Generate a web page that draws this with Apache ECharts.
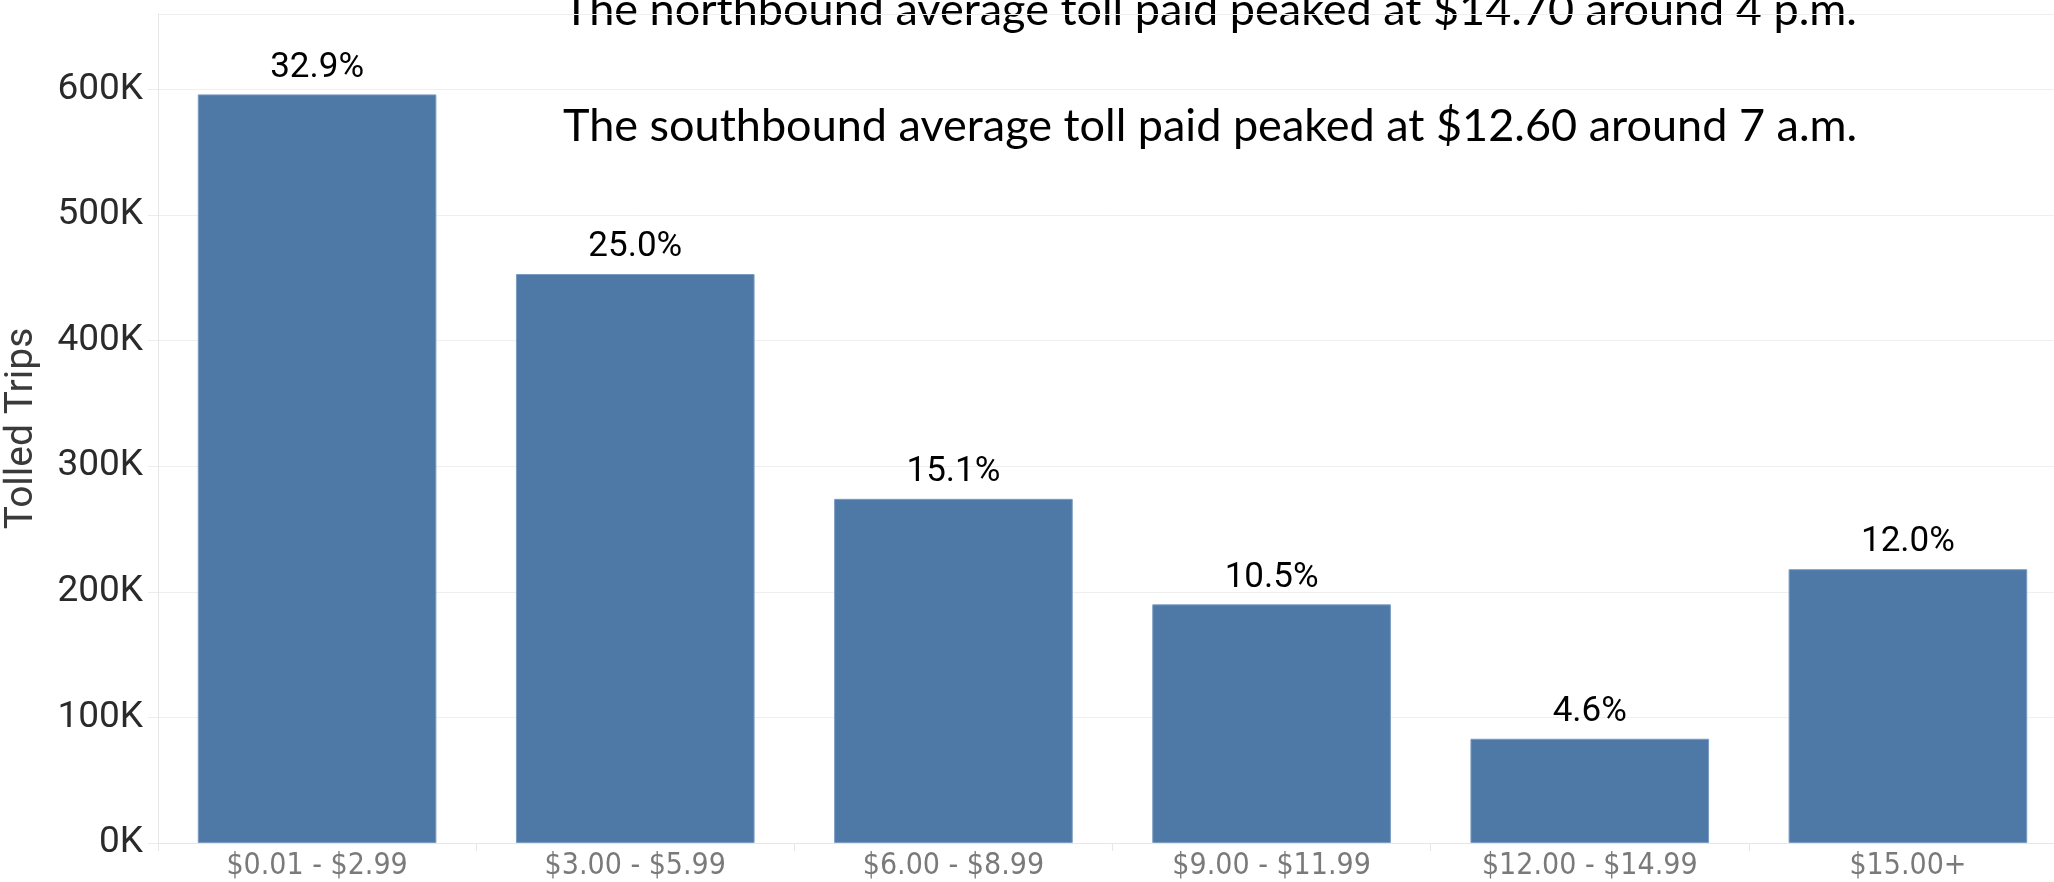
<!DOCTYPE html>
<html>
<head>
<meta charset="utf-8">
<title>Tolled Trips by Toll Paid</title>
<script src="https://cdn.jsdelivr.net/npm/echarts@6/dist/echarts.min.js"></script>
<style>
  html, body { margin: 0; padding: 0; background: #fff; }
  #grafico { width: 2054px; height: 882px; }
</style>
</head>
<body>
<div id="grafico"></div>
<script>
// Datos
const rangosPeaje = ["$0.01 - $2.99", "$3.00 - $5.99", "$6.00 - $8.99", "$9.00 - $11.99", "$12.00 - $14.99", "$15.00+"];
const viajes = [596000, 453000, 274000, 190000, 83000, 218000];
const porcentajes = ["32.9%", "25.0%", "15.1%", "10.5%", "4.6%", "12.0%"];
const notas = [
    "The northbound average toll paid peaked at $14.70 around 4 p.m.",
    "The southbound average toll paid peaked at $12.60 around 7 a.m."
];

const grafico = echarts.init(document.getElementById('grafico'));

grafico.setOption({
    animation: false,
    grid: { left: 158, width: 1909, top: 14, bottom: 39, containLabel: false, outerBoundsMode: 'none' },
    xAxis: {
        type: 'category',
        data: rangosPeaje,
        axisLine: { lineStyle: { color: '#e6e6e6', width: 1 } },
        axisTick: { show: true, length: 8, lineStyle: { color: '#e6e6e6' } },
        axisLabel: {
            color: '#7a7a7a',
            fontFamily: '"Liberation Sans Narrow", "DejaVu Sans Condensed", sans-serif',
            fontSize: 30,
            margin: 8
        }
    },
    yAxis: {
        type: 'value',
        min: 0,
        max: 660000,
        interval: 100000,
        name: 'Tolled Trips',
        nameLocation: 'middle',
        nameGap: 116,
        nameTextStyle: { color: '#3a3a3a', fontFamily: 'Roboto', fontSize: 39 },
        axisLine: { show: true, lineStyle: { color: '#e6e6e6' } },
        axisTick: { show: true, length: 10, lineStyle: { color: '#ececec' } },
        axisLabel: {
            color: '#2a2a2a',
            fontFamily: 'Roboto',
            fontSize: 37,
            margin: 15,
            showMaxLabel: false,
            formatter: (v) => (v / 1000) + 'K'
        },
        splitLine: { lineStyle: { color: '#efefef', width: 1 } }
    },
    series: [{
        type: 'bar',
        data: viajes,
        barCategoryGap: '25%',
        itemStyle: { color: '#4e79a7', borderColor: '#7b9cc2', borderWidth: 1 },
        label: {
            show: true,
            position: 'top',
            distance: 9,
            color: '#000',
            fontFamily: 'Roboto',
            fontSize: 35,
            formatter: (p) => porcentajes[p.dataIndex]
        }
    }],
    graphic: notas.map((t, i) => ({
        type: 'text',
        left: 563,
        top: i === 0 ? -12 : 104,
        style: {
            text: t,
            fill: '#000',
            font: '45px Lato'
        }
    }))
});
</script>
</body>
</html>
